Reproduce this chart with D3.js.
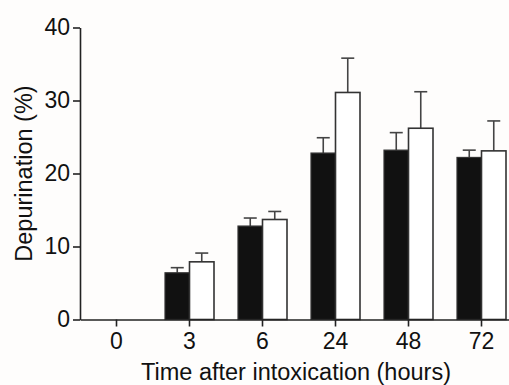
<!DOCTYPE html>
<html lang="en">
<head>
  <meta charset="UTF-8" />
  <title>Depurination</title>
  <script src="https://d3js.org/d3.v7.min.js"></script>
  <style>
    body { margin: 0; background: #fefdfc; }
    svg { display: block; font-family: 'Liberation Sans', Arial, sans-serif; }
  </style>
</head>
<body>
  <svg id="chart" width="509" height="385"></svg>
  <script>
    const hours = ["0", "3", "6", "24", "48", "72"];
    const blackMean = [0, 6.4, 12.8, 22.8, 23.2, 22.2];
    const blackErr  = [0, 0.7, 1.1, 2.1, 2.4, 1.0];
    const whiteMean = [0, 7.9, 13.7, 31.1, 26.2, 23.1];
    const whiteErr  = [0, 1.2, 1.1, 4.7, 5.0, 4.1];
    const yTicks = [0, 10, 20, 30, 40];

    const svg = d3.select("#chart");
    const plotLeft = 80, plotRight = 518, plotTop = 27.5, plotBottom = 319.5;
    const barW = 24.5;

    const x = d3.scaleBand().domain(hours).range([plotLeft, plotRight]);
    const y = d3.scaleLinear().domain([0, 40]).range([plotBottom, plotTop]);

    const rows = hours.map((h, i) => ({
      h,
      b: blackMean[i], be: blackErr[i],
      w: whiteMean[i], we: whiteErr[i]
    }));

    const cx = d => x(d.h) + x.bandwidth() / 2;

    // error bars first so bars sit on top of the stems
    const errs = [];
    rows.forEach(d => {
      if (d.b > 0) errs.push({ x: cx(d) - barW / 2, v: d.b, e: d.be });
      if (d.w > 0) errs.push({ x: cx(d) + barW / 2, v: d.w, e: d.we });
    });

    const eg = svg.append("g").attr("stroke", "#444").attr("stroke-width", 1.6);
    eg.selectAll("line.stem").data(errs).join("line")
      .attr("class", "stem")
      .attr("x1", d => d.x).attr("x2", d => d.x)
      .attr("y1", d => y(d.v)).attr("y2", d => y(d.v + d.e));
    eg.selectAll("line.cap").data(errs).join("line")
      .attr("class", "cap")
      .attr("x1", d => d.x - 6.5).attr("x2", d => d.x + 6.5)
      .attr("y1", d => y(d.v + d.e)).attr("y2", d => y(d.v + d.e));

    const drawn = rows.filter(d => d.b > 0);
    svg.append("g").selectAll("rect").data(drawn).join("rect")
      .attr("x", d => cx(d) - barW)
      .attr("y", d => y(d.b))
      .attr("width", barW)
      .attr("height", d => y(0) - y(d.b))
      .attr("fill", "#111")
      .attr("stroke", "#333")
      .attr("stroke-width", 1.2);

    svg.append("g").selectAll("rect").data(drawn).join("rect")
      .attr("x", d => cx(d))
      .attr("y", d => y(d.w))
      .attr("width", barW)
      .attr("height", d => y(0) - y(d.w))
      .attr("fill", "#fff")
      .attr("stroke", "#333")
      .attr("stroke-width", 1.6);

    // axes
    const yAxis = svg.append("g")
      .attr("transform", `translate(${plotLeft},0)`)
      .call(d3.axisLeft(y).tickValues(yTicks).tickSize(7).tickSizeOuter(0).tickPadding(3));
    const xAxis = svg.append("g")
      .attr("transform", `translate(0,${plotBottom})`)
      .call(d3.axisBottom(x).tickSize(7).tickSizeOuter(0).tickPadding(6));

    [yAxis, xAxis].forEach(a => {
      a.select(".domain").attr("stroke", "#222").attr("stroke-width", 1.6);
      a.selectAll(".tick line").attr("stroke", "#222").attr("stroke-width", 1.6);
      a.selectAll(".tick text").attr("fill", "#111").style("font-size", "23px");
    });

    svg.append("text")
      .attr("x", 296).attr("y", 380)
      .attr("text-anchor", "middle")
      .attr("fill", "#111")
      .style("font-size", "23.5px")
      .text("Time after intoxication (hours)");

    svg.append("text")
      .attr("transform", `translate(32,${(plotTop + plotBottom) / 2}) rotate(-90)`)
      .attr("text-anchor", "middle")
      .attr("fill", "#111")
      .style("font-size", "23.5px")
      .text("Depurination (%)");
  </script>
</body>
</html>
